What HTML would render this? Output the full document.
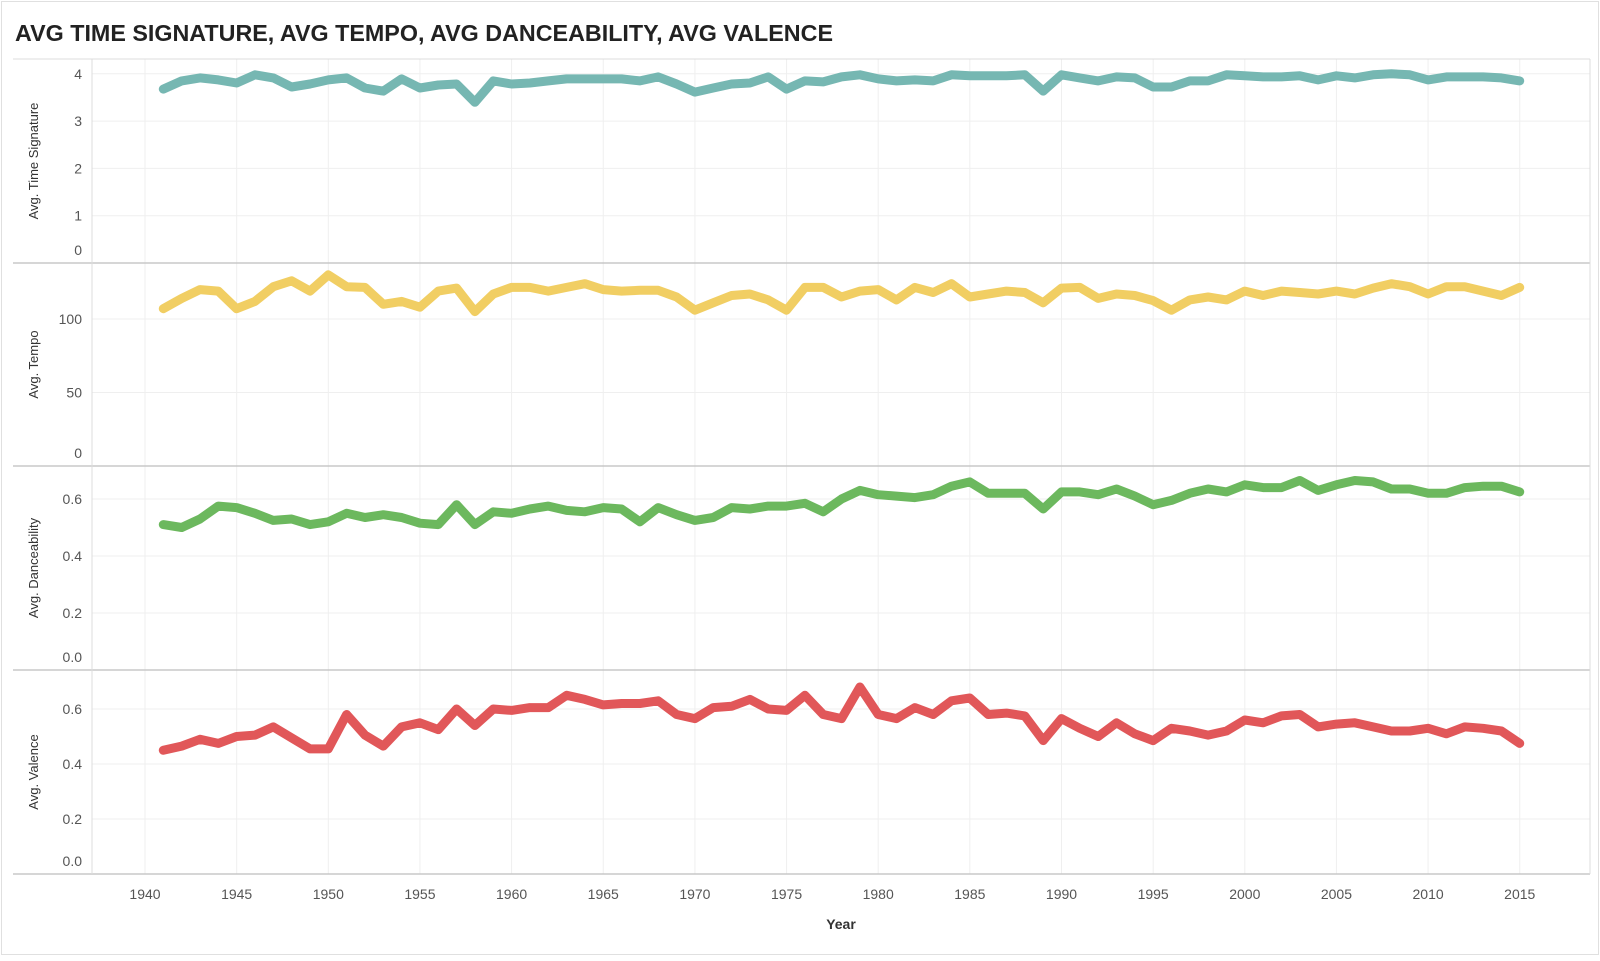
<!DOCTYPE html>
<html><head><meta charset="utf-8">
<style>
html,body{margin:0;padding:0;background:#fff;}
body{width:1600px;height:956px;overflow:hidden;font-family:"Liberation Sans",sans-serif;}
</style></head>
<body>
<svg id="chart" width="1600" height="956" xmlns="http://www.w3.org/2000/svg">
<rect x="1.5" y="1.5" width="1597" height="953" fill="none" stroke="#e0e0e0"/>
<text x="15" y="41" font-family="'Liberation Sans Narrow','Liberation Sans',sans-serif" font-size="23" font-weight="bold" fill="#222" textLength="818" lengthAdjust="spacingAndGlyphs">AVG TIME SIGNATURE,  AVG TEMPO, AVG DANCEABILITY, AVG VALENCE</text>
<g id="grid"></g>
<g id="marks"></g>
<g id="axes"></g>
</svg>
<script>
const years = [];
for (let y = 1941; y <= 2015; y++) years.push(y);
const xTicks = [1940,1945,1950,1955,1960,1965,1970,1975,1980,1985,1990,1995,2000,2005,2010,2015];
const timeSigPx = [88,80,77,79,82,74,77,86,83,79,77,87,90,78,87,84,83,101,80,83,82,80,78,78,78,78,80,76,83,91,87,83,82,76,88,80,81,76,74,78,80,79,80,74,75,75,75,74,90,74,77,80,76,77,86,86,80,80,74,75,76,76,75,79,75,77,74,73,74,79,76,76,76,77,80];
const timeSig = timeSigPx.map(p => +(4 - (p - 73) / 46.5).toFixed(3));
const tempo = [107,114,120,119,107,112,122,126,119,130,122,121.5,110,112,108,119,121,105,117,121.5,121.5,119,121.5,124,120,119,119.5,119.5,115,106,111,116,117,113,106,121.5,121.5,115,119,120,113,121.5,118,124,115,117,119,118,111,121,121.5,114,117,116,112.5,106,113,115,113,119,116,119,118,117,119,117,121,124,122,117,122,122,119,116,121.5];
const dance = [.51,.50,.53,.575,.57,.55,.525,.53,.51,.52,.55,.535,.545,.535,.515,.51,.58,.51,.555,.55,.565,.575,.56,.555,.57,.565,.52,.57,.545,.525,.535,.57,.565,.575,.575,.585,.555,.60,.63,.615,.61,.605,.615,.645,.66,.62,.62,.62,.565,.625,.625,.615,.635,.61,.58,.595,.62,.635,.625,.65,.64,.64,.665,.63,.65,.665,.66,.635,.635,.62,.62,.64,.645,.645,.625];
const valence = [.45,.465,.49,.475,.50,.505,.535,.495,.455,.455,.58,.505,.465,.535,.55,.525,.60,.54,.60,.595,.605,.605,.65,.635,.615,.62,.62,.63,.58,.565,.605,.61,.635,.60,.595,.65,.58,.565,.68,.58,.565,.605,.58,.63,.64,.58,.585,.575,.485,.565,.53,.50,.55,.51,.485,.53,.52,.505,.52,.56,.55,.575,.58,.535,.545,.55,.535,.52,.52,.53,.51,.535,.53,.52,.475];

const NS = "http://www.w3.org/2000/svg";
const X0 = 92, X1 = 1590;
const xScale = yr => 145 + (yr - 1940) * 18.33;
const panes = [
  {key:'time-signature', title:'Avg. Time Signature', top:59, bottom:263, per:47.3, vals:timeSig, color:'#76b7b2', ticks:[0,1,2,3,4], fmt:v=>String(v)},
  {key:'tempo', title:'Avg. Tempo', top:263, bottom:466, per:1.47, vals:tempo, color:'#f1ce63', ticks:[0,50,100], fmt:v=>String(v)},
  {key:'danceability', title:'Avg. Danceability', top:466, bottom:670, per:285, vals:dance, color:'#6cb85e', ticks:[0,0.2,0.4,0.6], fmt:v=>v.toFixed(1)},
  {key:'valence', title:'Avg. Valence', top:670, bottom:874, per:275, vals:valence, color:'#e15759', ticks:[0,0.2,0.4,0.6], fmt:v=>v.toFixed(1)}
];
const gridG = document.getElementById('grid');
const marksG = document.getElementById('marks');
const axesG = document.getElementById('axes');
function mk(tag, attrs, parent){ const e=document.createElementNS(NS,tag); for(const k in attrs) e.setAttribute(k,attrs[k]); parent.appendChild(e); return e; }

xTicks.forEach(t => {
  const l = mk('line',{x1:xScale(t),x2:xScale(t),y1:59,y2:874,stroke:'#efefef','stroke-width':1},gridG);
  
  
  const tx = mk('text',{x:xScale(t),y:899,'text-anchor':'middle','font-size':14,fill:'#555'},axesG);
  tx.textContent = t;
  
  
});
panes.forEach(p => {
  const yScale = v => p.bottom - v * p.per;
  p.ticks.forEach(t => {
    if (t !== 0) {
      const g = mk('line',{x1:X0,x2:X1,y1:yScale(t),y2:yScale(t),stroke:'#efefef','stroke-width':1},gridG);
      
      
    }
    const ty = t === 0 ? p.bottom - 8 : yScale(t) + 5;
    const tx = mk('text',{x:82,y:ty,'text-anchor':'end','font-size':14,fill:'#555'},axesG);
    tx.textContent = p.fmt(t);
    
    
  });
  const cy = (p.top + p.bottom) / 2;
  const at = mk('text',{x:0,y:0,transform:`translate(38,${cy}) rotate(-90)`,'text-anchor':'middle','font-size':13,fill:'#333'},axesG);
  at.textContent = p.title;
  
  
  const sep = mk('line',{x1:13,x2:X1,y1:p.bottom,y2:p.bottom,stroke:'#c8c8c8','stroke-width':1.5},axesG);
  
  
  const d = p.vals.map((v,i)=>(i?'L':'M')+xScale(years[i]).toFixed(1)+','+yScale(v).toFixed(1)).join(' ');
  const path = mk('path',{d:d,fill:'none',stroke:p.color,'stroke-width':9,'stroke-linejoin':'round','stroke-linecap':'round'},marksG);
  
  
});
const topBorder = mk('line',{x1:13,x2:X1,y1:59,y2:59,stroke:'#dcdcdc','stroke-width':1},axesG);


const vb = mk('line',{x1:X0,x2:X0,y1:59,y2:874,stroke:'#dcdcdc','stroke-width':1},axesG);


const rb = mk('line',{x1:X1,x2:X1,y1:59,y2:874,stroke:'#dcdcdc','stroke-width':1},axesG);


const xt = mk('text',{x:841,y:929,'text-anchor':'middle','font-size':14,'font-weight':'bold',fill:'#333'},axesG);
xt.textContent = 'Year';


</script>
</body></html>
